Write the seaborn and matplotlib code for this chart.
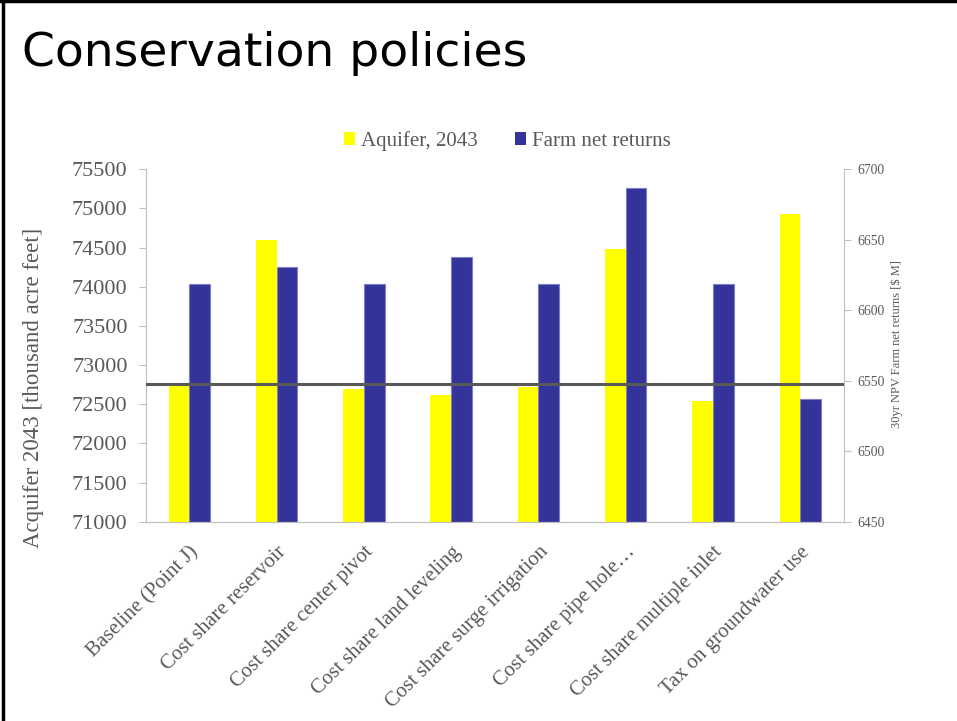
import matplotlib
matplotlib.use("Agg")
import matplotlib.pyplot as plt
from matplotlib.patches import Patch
from matplotlib.lines import Line2D
import seaborn as sns
import pandas as pd

# Policy scenarios and their outcomes
policies = [
    "Baseline (Point J)",
    "Cost share reservoir",
    "Cost share center pivot",
    "Cost share land leveling",
    "Cost share surge irrigation",
    "Cost share pipe hole\u2026",
    "Cost share multiple inlet",
    "Tax on groundwater use",
]
aquifer_2043 = [72745, 74595, 72690, 72618, 72717, 74479, 72538, 74934]
farm_returns = [6618.7, 6630.7, 6618.7, 6637.8, 6618.7, 6686.8, 6618.7, 6536.9]
baseline_level = 72763

aq_label = "Aquifer, 2043"
farm_label = "Farm net returns"
series_order = [aq_label, farm_label]
palette = {aq_label: "#FFFF00", farm_label: "#333399"}

df_aq = pd.DataFrame({"policy": policies, "value": aquifer_2043, "series": aq_label})
df_farm = pd.DataFrame({"policy": policies, "value": farm_returns, "series": farm_label})

sns.set_style("white")
plt.rcParams["font.family"] = ["Liberation Serif", "DejaVu Serif"]
text_gray = "#595959"
axis_gray = "#BFBFBF"

fig = plt.figure(figsize=(9.57, 7.21), dpi=100)
ax1 = fig.add_axes([0.1522, 0.2764, 0.8819 - 0.1522, 0.7652 - 0.2764])
ax2 = ax1.twinx()

sns.barplot(data=df_aq, x="policy", y="value", hue="series", hue_order=series_order,
            palette=palette, saturation=1, dodge=True, width=0.475, legend=False, ax=ax1,
            edgecolor="none", linewidth=0)
sns.barplot(data=df_farm, x="policy", y="value", hue="series", hue_order=series_order,
            palette=palette, saturation=1, dodge=True, width=0.475, legend=False, ax=ax2,
            edgecolor="#7F7FC4", linewidth=0.8)

ax1.set_ylim(71000, 75500)
ax1.set_yticks(range(71000, 75501, 500))
ax2.set_ylim(6450, 6700)
ax2.set_yticks(range(6450, 6701, 50))
ax1.set_xlim(-0.5, len(policies) - 0.5)

# Reference level of the baseline aquifer volume, drawn above both bar series
ax1.axhline(baseline_level, color="#595959", lw=2.2, zorder=10)
ax1.set_zorder(3)
ax1.patch.set_visible(False)
ax2.set_zorder(2)

for ax in (ax1, ax2):
    ax.spines["top"].set_visible(False)
    ax.spines["left"].set_color(axis_gray)
    ax.spines["right"].set_color(axis_gray)
    ax.spines["bottom"].set_color(axis_gray)
    ax.set_xlabel("")
    ax.set_ylabel("")

ax1.spines["right"].set_visible(False)
ax2.spines["left"].set_visible(False)

ax1.tick_params(axis="y", direction="out", length=5, color=axis_gray, labelsize=16,
                labelcolor=text_gray, pad=8, left=True)
ax2.tick_params(axis="y", direction="out", length=5, color=axis_gray, labelsize=9.8,
                labelcolor=text_gray, pad=5, right=True)
ax1.tick_params(axis="x", length=0, pad=15)
ax2.tick_params(axis="x", length=0)

ax1.set_xticks(range(len(policies)))
ax1.set_xticklabels(policies, rotation=45, ha="right", va="top", rotation_mode="anchor",
                    fontsize=15, color=text_gray)

fig.text(34 / 957, 1 - 388 / 721, "Acquifer 2043 [thousand acre feet]", fontsize=16.5,
         color=text_gray, rotation=90, ha="center", va="center")
fig.text(897 / 957, 1 - 344 / 721, "30yr NPV Farm net returns [$ M]", fontsize=9,
         color=text_gray, rotation=90, ha="center", va="center")

handles = [Patch(facecolor=palette[aq_label], edgecolor="none", label=aq_label),
           Patch(facecolor=palette[farm_label], edgecolor="none", label=farm_label)]
fig.legend(handles=handles, loc="center", bbox_to_anchor=(0.5303, 1 - 141 / 721), ncol=2,
           frameon=False, fontsize=15, labelcolor=text_gray, handlelength=0.52,
           handleheight=0.52, handletextpad=0.3, columnspacing=1.8)

fig.text(0.023, 1 - 54 / 721, "Conservation policies", fontsize=34, family="DejaVu Sans",
         color="black", ha="left", va="center")

# Slide frame
fig.add_artist(Line2D([0.0035, 0.0035], [0, 1], color="black", lw=2.5, transform=fig.transFigure))
fig.add_artist(Line2D([0, 1], [0.998, 0.998], color="black", lw=2.5, transform=fig.transFigure))

fig.savefig("out.png", dpi=100)
